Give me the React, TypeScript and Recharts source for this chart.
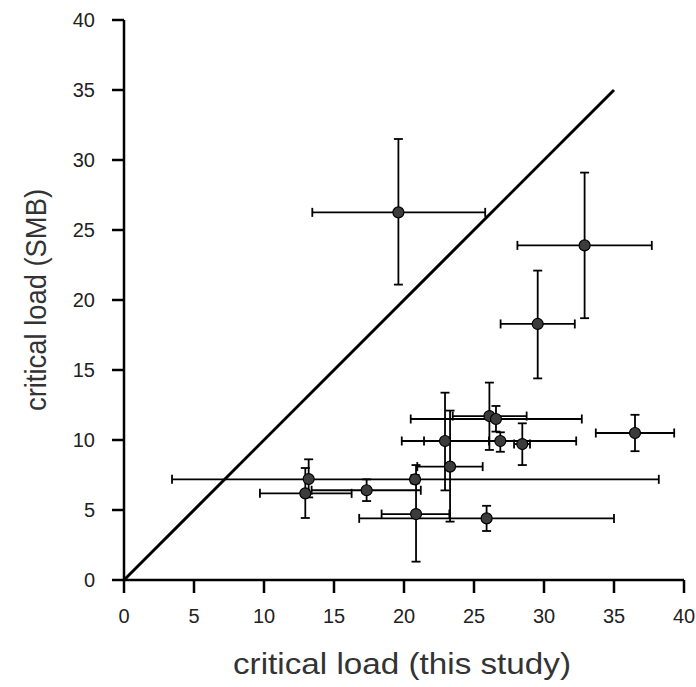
import { ScatterChart, Scatter, XAxis, YAxis, ErrorBar, ReferenceLine } from "recharts"

// ── Data ───────────────────────────────────────────────────────────────────

const thisStudy = [19.6, 32.9, 29.55, 36.5, 26.1, 26.57, 22.93, 26.88, 28.45, 23.29, 20.79, 20.86, 25.9, 13.19, 12.95, 17.33]
const smb = [26.26, 23.9, 18.29, 10.5, 11.71, 11.5, 9.93, 9.93, 9.71, 8.1, 7.19, 4.71, 4.4, 7.21, 6.19, 6.41]

// lower / upper bounds of the error bars
const thisStudyLow = [13.45, 28.1, 26.9, 33.7, 23.48, 20.48, 19.84, 21.43, 27.86, 20.95, 3.43, 18.4, 16.8, 13.19, 9.71, 13.4]
const thisStudyHigh = [25.8, 37.7, 32.2, 39.3, 28.76, 32.7, 26.07, 32.3, 29.0, 25.62, 38.2, 23.24, 35.0, 13.19, 16.26, 21.2]
const smbLow = [21.1, 18.7, 14.4, 9.2, 9.29, 10.6, 6.4, 9.16, 8.21, 4.17, 6.9, 1.31, 3.5, 5.9, 4.43, 5.64]
const smbHigh = [31.5, 29.1, 22.1, 11.8, 14.1, 12.43, 13.38, 10.55, 11.19, 12.1, 7.5, 8.21, 5.3, 8.62, 8.0, 7.19]

const ticks = [0, 5, 10, 15, 20, 25, 30, 35, 40]
const oneToOne = [0, 35]

const rows = thisStudy.map((x, i) => ({
  x,
  y: smb[i],
  ex: [x - thisStudyLow[i], thisStudyHigh[i] - x],
  ey: [smb[i] - smbLow[i], smbHigh[i] - smb[i]],
}))

// ── Styles ────────────────────────────────────────────────────────────────

const FONT = "'Liberation Sans', Arial, sans-serif"
const AXIS_LINE = { stroke: "#000", strokeWidth: 2.5 }

function XTick({ x, y, payload }: any) {
  return (
    <text x={x} y={y + 22} textAnchor="middle" fontSize={20} fill="#222" fontFamily={FONT}>
      {payload.value}
    </text>
  )
}

function YTick({ x, y, payload }: any) {
  return (
    <text x={x} y={y + 7} textAnchor="end" fontSize={20} fill="#222" fontFamily={FONT}>
      {payload.value}
    </text>
  )
}

function YTitle({ viewBox }: any) {
  const bx = viewBox.x + 46
  const cy = viewBox.y + viewBox.height / 2
  return (
    <text
      x={bx}
      y={cy}
      transform={`rotate(-90 ${bx} ${cy})`}
      textAnchor="middle"
      fontSize={30}
      textLength={222}
      lengthAdjust="spacingAndGlyphs"
      fill="#333"
      fontFamily={FONT}
    >
      critical load (SMB)
    </text>
  )
}

function XTitle({ viewBox }: any) {
  const cx = viewBox.x + viewBox.width / 2 - 2
  const by = viewBox.y + 94
  return (
    <text
      x={cx}
      y={by}
      textAnchor="middle"
      fontSize={30}
      textLength={338}
      lengthAdjust="spacingAndGlyphs"
      fill="#333"
      fontFamily={FONT}
    >
      critical load (this study)
    </text>
  )
}

const Dot = (p: any) => <circle cx={p.cx} cy={p.cy} r={5.5} fill="#3c3c3c" stroke="#000" strokeWidth={1.2} />

export default function App() {
  return (
    <div style={{ position: "absolute", left: 0, top: 0, width: 696, height: 687, background: "#fff" }}>
      <ScatterChart width={696} height={687} margin={{ top: 20, right: 12, left: 0, bottom: 7 }}>
        <XAxis
          type="number"
          dataKey="x"
          domain={[0, 40]}
          ticks={ticks}
          tick={<XTick />}
          tickSize={13}
          tickMargin={8}
          axisLine={AXIS_LINE}
          tickLine={AXIS_LINE}
          height={100}
          label={<XTitle />}
        />
        <YAxis
          type="number"
          dataKey="y"
          domain={[0, 40]}
          ticks={ticks}
          tick={<YTick />}
          tickSize={12}
          tickMargin={17}
          axisLine={AXIS_LINE}
          tickLine={AXIS_LINE}
          width={124}
          label={<YTitle />}
        />
        <ReferenceLine
          segment={[
            { x: oneToOne[0], y: oneToOne[0] },
            { x: oneToOne[1], y: oneToOne[1] },
          ]}
          stroke="#000"
          strokeWidth={3}
        />
        <Scatter data={rows} shape={Dot} isAnimationActive={false} />
        <Scatter data={rows} shape={() => <g />} isAnimationActive={false}>
          <ErrorBar dataKey="ex" direction="x" width={4.5} stroke="#000" strokeWidth={1.8} />
          <ErrorBar dataKey="ey" direction="y" width={4.5} stroke="#000" strokeWidth={1.8} />
        </Scatter>
      </ScatterChart>
    </div>
  )
}
